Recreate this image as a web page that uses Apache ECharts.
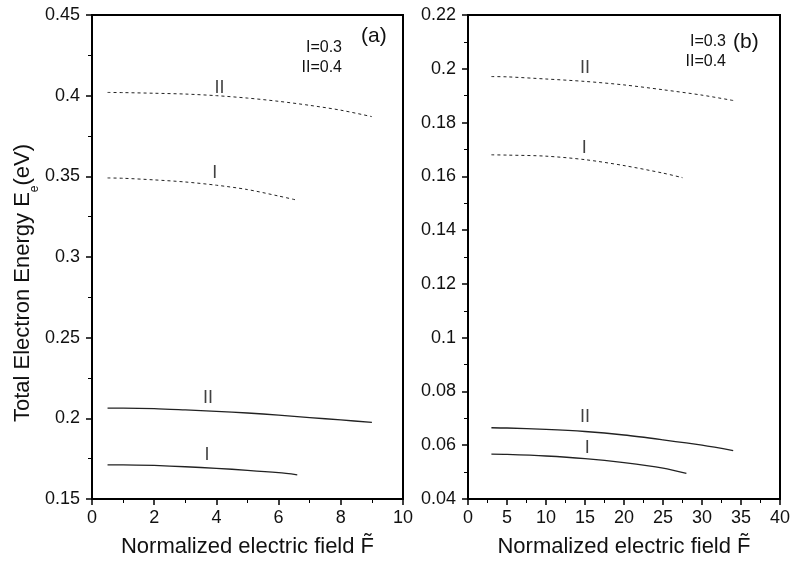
<!DOCTYPE html>
<html>
<head>
<meta charset="utf-8">
<script src="https://cdn.jsdelivr.net/npm/echarts@6/dist/echarts.min.js"></script>
<style>html,body{margin:0;padding:0;background:#fff}#c{width:794px;height:566px}</style>
</head>
<body>
<div id="c"></div>
<script>
// ---- Panel (a) data ----
const aX_dashII = [0.5, 1, 2, 3, 4, 5, 6, 7, 8, 9];
const aY_dashII = [0.402, 0.4019, 0.4015, 0.401, 0.4, 0.3985, 0.3965, 0.394, 0.391, 0.387];
const aX_dashI = [0.5, 1, 2, 3, 4, 5, 6, 6.6];
const aY_dashI = [0.349, 0.3488, 0.3478, 0.3465, 0.3445, 0.3418, 0.3378, 0.3352];
const aX_solidII = [0.5, 1, 2, 3, 4, 5, 6, 7, 8, 9];
const aY_solidII = [0.2063, 0.2063, 0.206, 0.2052, 0.2043, 0.2033, 0.202, 0.2005, 0.199, 0.1975];
const aX_solidI = [0.5, 1, 2, 3, 4, 5, 6, 6.6];
const aY_solidI = [0.1712, 0.1712, 0.1708, 0.17, 0.169, 0.1678, 0.1663, 0.165];
// curve labels (a): name, x, y
const aLabelNames = ['II', 'I', 'II', 'I'];
const aLabelX = [4.1, 3.95, 3.73, 3.7];
const aLabelY = [0.4047, 0.352, 0.2126, 0.1772];

// ---- Panel (b) data ----
const bX_dashII = [3, 5, 10, 15, 20, 25, 30, 34];
const bY_dashII = [0.1971, 0.197, 0.1962, 0.1953, 0.194, 0.1922, 0.1902, 0.1882];
const bX_dashI = [3, 5, 10, 15, 20, 25, 27.5];
const bY_dashI = [0.168, 0.1679, 0.1675, 0.1662, 0.164, 0.1612, 0.1595];
const bX_solidII = [3, 5, 10, 15, 20, 25, 30, 34];
const bY_solidII = [0.0665, 0.0664, 0.0659, 0.0651, 0.0638, 0.062, 0.06, 0.058];
const bX_solidI = [3, 5, 10, 15, 20, 25, 28];
const bY_solidI = [0.0567, 0.0566, 0.056, 0.055, 0.0535, 0.0515, 0.0495];
const bLabelNames = ['II', 'I', 'II', 'I'];
const bLabelX = [15.0, 14.9, 15.0, 15.3];
const bLabelY = [0.2003, 0.1704, 0.0706, 0.0589];

// axis ranges / ticks
const aXRange = [0, 10, 2];
const aYRange = [0.15, 0.45, 0.05];
const bXRange = [0, 40, 5];
const bYRange = [0.04, 0.22, 0.02];

const FONT = 'Liberation Sans, Arial, sans-serif';
const zip = (xs, ys) => xs.map((x, i) => [x, ys[i]]);

function lineSeries(xs, ys, idx, dashed) {
  return {
    type: 'line', xAxisIndex: idx, yAxisIndex: idx,
    data: zip(xs, ys), smooth: 0.3, symbol: 'none', silent: true,
    lineStyle: { color: '#222', width: dashed ? 1 : 1.3, type: dashed ? [3, 3] : 'solid' }
  };
}
function labelSeries(names, xs, ys, idx) {
  return {
    type: 'scatter', xAxisIndex: idx, yAxisIndex: idx, silent: true,
    symbolSize: 1, itemStyle: { color: 'rgba(0,0,0,0)' },
    data: names.map((n, i) => ({ name: n, value: [xs[i], ys[i]] })),
    label: { show: true, position: 'inside', formatter: '{b}', color: '#111', fontSize: 18, fontFamily: FONT }
  };
}
function xAxis(r, idx, name) {
  return {
    type: 'value', gridIndex: idx, min: r[0], max: r[1], interval: r[2],
    name: name, nameLocation: 'middle', nameGap: 37,
    nameTextStyle: { fontSize: 22, color: '#111', fontFamily: FONT },
    axisLine: { show: true, lineStyle: { color: '#000', width: 2 } },
    axisTick: { show: true, length: 6, lineStyle: { color: '#000', width: 1.5 } },
    minorTick: { show: true, splitNumber: 2, length: 4, lineStyle: { color: '#000', width: 1 } },
    splitLine: { show: false },
    axisLabel: { fontSize: 18, color: '#111', margin: 10, fontFamily: FONT }
  };
}
function yAxis(r, idx, name) {
  return {
    type: 'value', gridIndex: idx, min: r[0], max: r[1], interval: r[2],
    name: name, nameLocation: 'middle', nameGap: 55,
    nameTextStyle: { fontSize: 22, color: '#111', fontFamily: FONT, padding: [0, 52, 0, 0],
      rich: { sub: { fontSize: 12, color: '#111', fontFamily: FONT, verticalAlign: 'bottom', padding: [0, 0, -7, 0] } } },
    axisLine: { show: true, lineStyle: { color: '#000', width: 2 } },
    axisTick: { show: true, length: 6, lineStyle: { color: '#000', width: 1.5 } },
    minorTick: { show: true, splitNumber: 2, length: 4, lineStyle: { color: '#000', width: 1 } },
    splitLine: { show: false },
    axisLabel: { fontSize: 18, color: '#111', margin: 12, fontFamily: FONT,
      formatter: v => String(Math.round(v * 1000) / 1000) }
  };
}

const chart = echarts.init(document.getElementById('c'), null, { renderer: 'canvas' });
const xName = 'Normalized electric field F\u0303';
chart.setOption({
  animation: false,
  backgroundColor: '#fff',
  grid: [
    { left: 92, top: 15, width: 311, height: 484, show: true, borderColor: '#000', borderWidth: 2 },
    { left: 468, top: 15, width: 312, height: 484, show: true, borderColor: '#000', borderWidth: 2 }
  ],
  xAxis: [xAxis(aXRange, 0, xName), xAxis(bXRange, 1, xName)],
  yAxis: [yAxis(aYRange, 0, 'Total Electron Energy E{sub|e}(eV)'), yAxis(bYRange, 1, '')],
  series: [
    lineSeries(aX_dashII, aY_dashII, 0, true),
    lineSeries(aX_dashI, aY_dashI, 0, true),
    lineSeries(aX_solidII, aY_solidII, 0, false),
    lineSeries(aX_solidI, aY_solidI, 0, false),
    labelSeries(aLabelNames, aLabelX, aLabelY, 0),
    lineSeries(bX_dashII, bY_dashII, 1, true),
    lineSeries(bX_dashI, bY_dashI, 1, true),
    lineSeries(bX_solidII, bY_solidII, 1, false),
    lineSeries(bX_solidI, bY_solidI, 1, false),
    labelSeries(bLabelNames, bLabelX, bLabelY, 1)
  ],
  graphic: [
    { type: 'text', left: 361, top: 26, style: { text: '(a)', fontSize: 21, fill: '#111', fontFamily: FONT } },
    { type: 'text', right: 794 - 342, top: 40, style: { text: 'I=0.3', fontSize: 16, fill: '#111', fontFamily: FONT } },
    { type: 'text', right: 794 - 342, top: 60, style: { text: 'II=0.4', fontSize: 16, fill: '#111', fontFamily: FONT } },
    { type: 'text', left: 733, top: 32, style: { text: '(b)', fontSize: 21, fill: '#111', fontFamily: FONT } },
    { type: 'text', right: 794 - 726, top: 34, style: { text: 'I=0.3', fontSize: 16, fill: '#111', fontFamily: FONT } },
    { type: 'text', right: 794 - 726, top: 54, style: { text: 'II=0.4', fontSize: 16, fill: '#111', fontFamily: FONT } }
  ]
});
</script>
</body>
</html>
